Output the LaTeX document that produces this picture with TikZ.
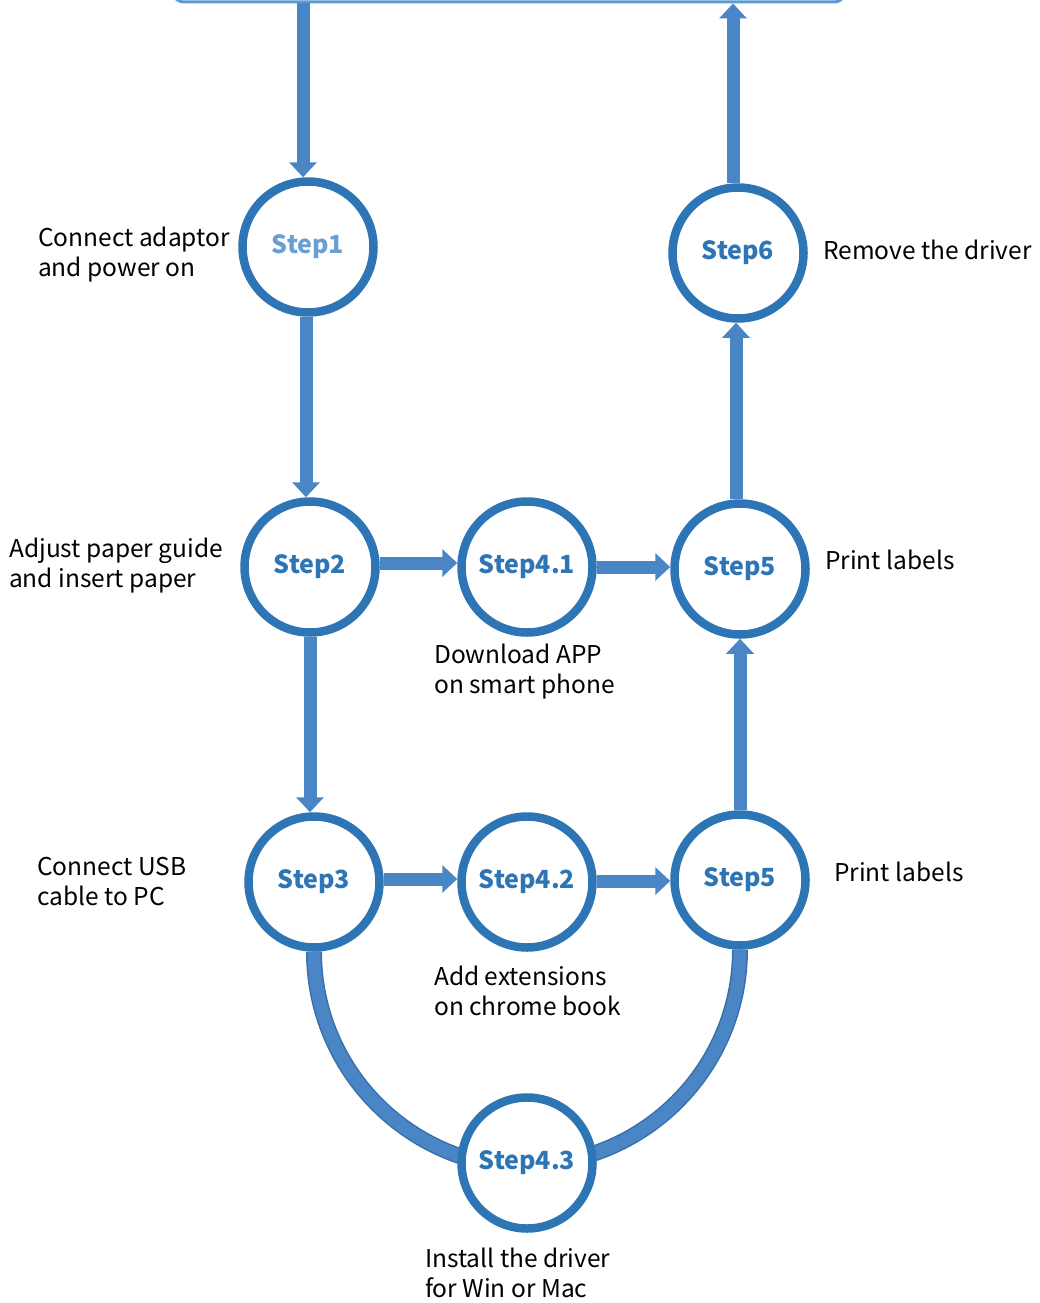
\documentclass[tikz,border=0pt]{standalone}
\usepackage{fontspec}
\setmainfont{Noto Sans CJK SC}
\usetikzlibrary{arrows.meta}
\definecolor{ringblue}{HTML}{2E75B6}
\definecolor{arrowfill}{HTML}{4A86C5}
\definecolor{arrowedge}{HTML}{3A6EA8}
\definecolor{boxblue}{HTML}{5B9BD5}
\definecolor{stepone}{HTML}{6A9FD6}
\tikzset{
  stepnode/.style={circle, draw=ringblue, line width=8.5pt, fill=white, minimum size=131pt, inner sep=0pt,
    text=ringblue, font=\fontsize{25}{30}\selectfont\bfseries},
  lbl/.style={inner sep=0pt, align=left, anchor=west, text=black, font=\fontsize{24.5}{30}\selectfont},
  fat/.style={draw=arrowfill, line width=13pt, -{Triangle[length=15pt,width=27pt]}},
  band/.style={draw=arrowedge, line width=1.5pt, double=arrowfill, double distance=13pt},
}
\begin{document}
\begin{tikzpicture}[x=1pt,y=-1pt]
\useasboundingbox (0,0) rectangle (1040,1303);
% top box
\node[draw=boxblue, line width=3pt, rounded corners=14pt, minimum width=677pt, minimum height=60pt] (top) at (509,-28) {};
% steps
\node[stepnode, text=stepone] (s1) at (308,247) {Step1};
\node[stepnode] (s6) at (738,253) {Step6};
\node[stepnode] (s2) at (310,567) {Step2};
\node[stepnode] (s41) at (527,567) {Step4.1};
\node[stepnode] (s5a) at (740,569) {Step5};
\node[stepnode] (s3) at (314,882) {Step3};
\node[stepnode] (s42) at (527,882) {Step4.2};
\node[stepnode] (s5b) at (740,880) {Step5};
% arc band (drawn before Step4.3 so node covers it)
\draw[band] (s3.south) arc[start angle=180, end angle=270, radius=216pt];
\draw[band] (s5b.south) arc[start angle=0, end angle=-90, radius=215pt];
\node[stepnode] (s43) at (527,1163) {Step4.3};
% arrows
\draw[fat] ([xshift=-5pt]top.south -| s1) -- ([xshift=-5pt]s1.north);
\draw[fat] ([xshift=-2pt]s1.south) -- ([xshift=-2pt]s1.south |- s2.north);
\draw[fat] (s2.south) -- (s2.south |- s3.north);
\draw[fat] ([yshift=4pt]s2.east) -- ([yshift=4pt]s2.east -| s41.west);
\draw[fat] (s41.east) -- (s41.east -| s5a.west);
\draw[fat] ([yshift=3pt]s3.east) -- ([yshift=3pt]s3.east -| s42.west);
\draw[fat] ([yshift=1pt]s42.east) -- ([yshift=1pt]s42.east -| s5b.west);
\draw[fat] (s5b.north) -- (s5b.north |- s5a.south);
\draw[fat] ([xshift=-4pt]s5a.north) -- ([xshift=-4pt]s5a.north |- s6.south);
\draw[fat] ([xshift=-5pt]s6.north) -- ([xshift=-5pt]s6.north |- top.south);
% labels
\node[lbl] (t1) at (38,255) {Connect adaptor\\and power on};
\node[lbl] (t6) at (823,250) {Remove the driver};
\node[lbl] (t2) at (9,566) {Adjust paper guide\\and insert paper};
\node[lbl] (t5a) at (825,560) {Print labels};
\node[lbl] (t41) at (434,672) {Download APP\\on smart phone};
\node[lbl] (t3) at (37,882) {Connect USB\\cable to PC};
\node[lbl] (t5b) at (834,872) {Print labels};
\node[lbl] (t42) at (434,991) {Add extensions\\on chrome book};
\node[lbl] (t43) at (425,1273) {Install the driver\\for Win or Mac};
\end{tikzpicture}
\end{document}
